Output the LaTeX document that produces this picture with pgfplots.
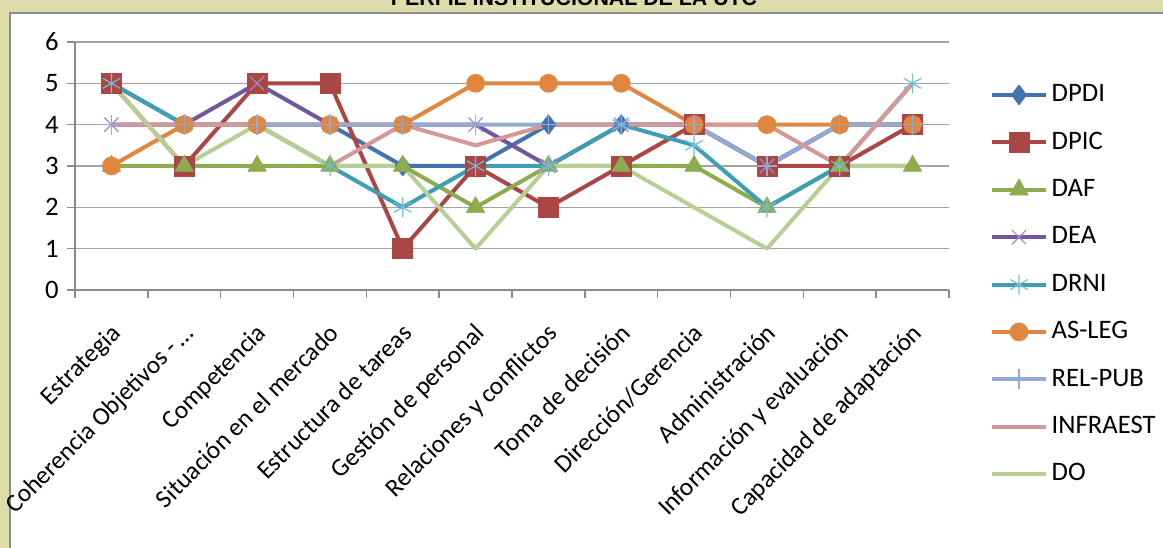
\documentclass[border=0pt]{standalone}
\usepackage{fontspec}
\setmainfont{Carlito}
\newfontfamily\titlefont{Liberation Sans}
\usepackage{pgfplots}
\usepackage{pgfplotstable}
\pgfplotsset{compat=1.18}

\definecolor{frame}{HTML}{DDDCAB}
\definecolor{panelline}{HTML}{8C8C8C}
\definecolor{axisgray}{HTML}{8A8A8A}
\definecolor{gridgray}{HTML}{A3A3A3}
\definecolor{cDPDI}{HTML}{4572B0}
\definecolor{cDPIC}{HTML}{AA4643}
\definecolor{cDAF}{HTML}{8DAB4F}
\definecolor{cDEA}{HTML}{7157A0}
\definecolor{cDEAm}{HTML}{9C8BC4}
\definecolor{cDRNI}{HTML}{3F9DB5}
\definecolor{cDRNIm}{HTML}{6FC0D8}
\definecolor{cASLEG}{HTML}{E0863F}
\definecolor{cRELPUB}{HTML}{93ABD4}
\definecolor{cINFRA}{HTML}{D69896}
\definecolor{cDO}{HTML}{B8CF94}

% Scores per area (0 = Estrategia ... 11 = Capacidad de adaptacion)
\pgfplotstableread{
x  DPDI DPIC DAF DEA DRNI ASLEG RELPUB INFRAEST DO
0  5    5    3   4   5    3     4      4        5
1  4    3    3   4   4    4     4      4        3
2  4    5    3   5   4    4     4      4        4
3  4    5    3   4   3    4     4      3        3
4  3    1    3   4   2    4     4      4        3
5  3    3    2   4   3    5     4      3.5      1
6  4    2    3   3   3    5     4      4        3
7  4    3    3   4   4    5     4      4        3
8  4    4    3   4   3.5  4     4      4        2
9  3    3    2   3   2    4     3      4        1
10 4    3    3   4   3    4     4      3        3
11 4    4    3   4   5    4     4      5        3
}\scores

\begin{document}
\begin{tikzpicture}
\useasboundingbox (0,0) rectangle (872.25pt,411pt);
\begin{scope}
  \clip (0,0) rectangle (872.25pt,411pt);
  \fill[frame] (0,0) rectangle (872.25pt,411pt);
  \filldraw[fill=white, draw=panelline, line width=1.5pt] (7.3pt,-20pt) rectangle (900pt,401.25pt);
  \node[anchor=base, inner sep=0pt, font=\titlefont\bfseries\fontsize{16}{18}\selectfont]
    at (430.5pt,406.8pt) {PERFIL INSTITUCIONAL DE LA UTC};
\end{scope}
\begin{axis}[
  at={(56.25pt,193.5pt)}, anchor=south west,
  width=655.5pt, height=186pt, scale only axis,
  xmin=-0.5, xmax=11.5, ymin=0, ymax=6,
  clip=false,
  axis lines*=left,
  axis line style={draw=axisgray, line width=1.1pt},
  ymajorgrids,
  grid style={draw=gridgray, line width=1.1pt},
  ytick={0,...,6},
  xtick={0,...,11},
  minor xtick={-0.5,0.5,...,11.5},
  tick align=outside,
  major tick length=6pt, minor tick length=6pt,
  xtick style={draw=none},
  minor x tick style={draw=axisgray, line width=1.1pt},
  ytick style={draw=axisgray, line width=1.1pt},
  /pgf/number format/assume math mode=true,
  yticklabel style={font=\fontsize{20}{24}\selectfont, anchor=east, inner sep=0pt, xshift=-6pt},
  xticklabels={Estrategia, Coherencia Objetivos -\,…, Competencia, Situación en el mercado,
    Estructura de tareas, Gestión de personal, Relaciones y conflictos, Toma de decisión,
    Dirección/Gerencia, Administración, Información y evaluación, Capacidad de adaptación},
  xticklabel style={font=\fontsize{19}{23}\selectfont, inner sep=0pt, xshift=-1.5pt, yshift=-18pt,
    rotate=45, anchor=north east},
  every axis plot/.append style={line width=3pt, line join=round},
  legend style={draw=none, fill=none, at={(axis description cs:1.047,0.022)}, anchor=west,
    inner sep=0pt, row sep=17.55pt, column sep=3pt,
    font=\fontsize{20}{24}\selectfont,
    nodes={inner sep=0pt, text height=14pt, text depth=4pt}},
  legend cell align=left,
  legend image code/.code={%
    \draw[#1, mark repeat=2, mark phase=2] plot coordinates {(0pt,0pt) (20pt,0pt) (40pt,0pt)};},
]
\addplot[color=cDPDI, mark=diamond*, mark size=7.5pt, mark options={solid, fill=cDPDI, line width=0.5pt}]
  table[x=x, y=DPDI] {\scores};
\addlegendentry{DPDI}
\addplot[color=cDPIC, mark=square*, mark size=7.5pt, mark options={solid, fill=cDPIC, line width=0.5pt}]
  table[x=x, y=DPIC] {\scores};
\addlegendentry{DPIC}
\addplot[color=cDAF, mark=triangle*, mark size=8pt, mark options={solid, fill=cDAF, line width=0.5pt}]
  table[x=x, y=DAF] {\scores};
\addlegendentry{DAF}
\addplot[color=cDEA, mark=x, mark size=7.5pt, mark options={solid, draw=cDEAm, line width=0.9pt}]
  table[x=x, y=DEA] {\scores};
\addlegendentry{DEA}
\addplot[color=cDRNI, mark=asterisk, mark size=7.5pt, mark options={solid, draw=cDRNIm, line width=0.9pt}]
  table[x=x, y=DRNI] {\scores};
\addlegendentry{DRNI}
\addplot[color=cASLEG, mark=*, mark size=6.75pt, mark options={solid, fill=cASLEG, line width=0.5pt}]
  table[x=x, y=ASLEG] {\scores};
\addlegendentry{AS-LEG}
\addplot[color=cRELPUB, mark=+, mark size=7.5pt, mark options={solid, line width=0.9pt}]
  table[x=x, y=RELPUB] {\scores};
\addlegendentry{REL-PUB}
\addplot[color=cINFRA, mark=none] table[x=x, y=INFRAEST] {\scores};
\addlegendentry{INFRAEST}
\addplot[color=cDO, mark=none] table[x=x, y=DO] {\scores};
\addlegendentry{DO}
\end{axis}
\end{tikzpicture}
\end{document}
